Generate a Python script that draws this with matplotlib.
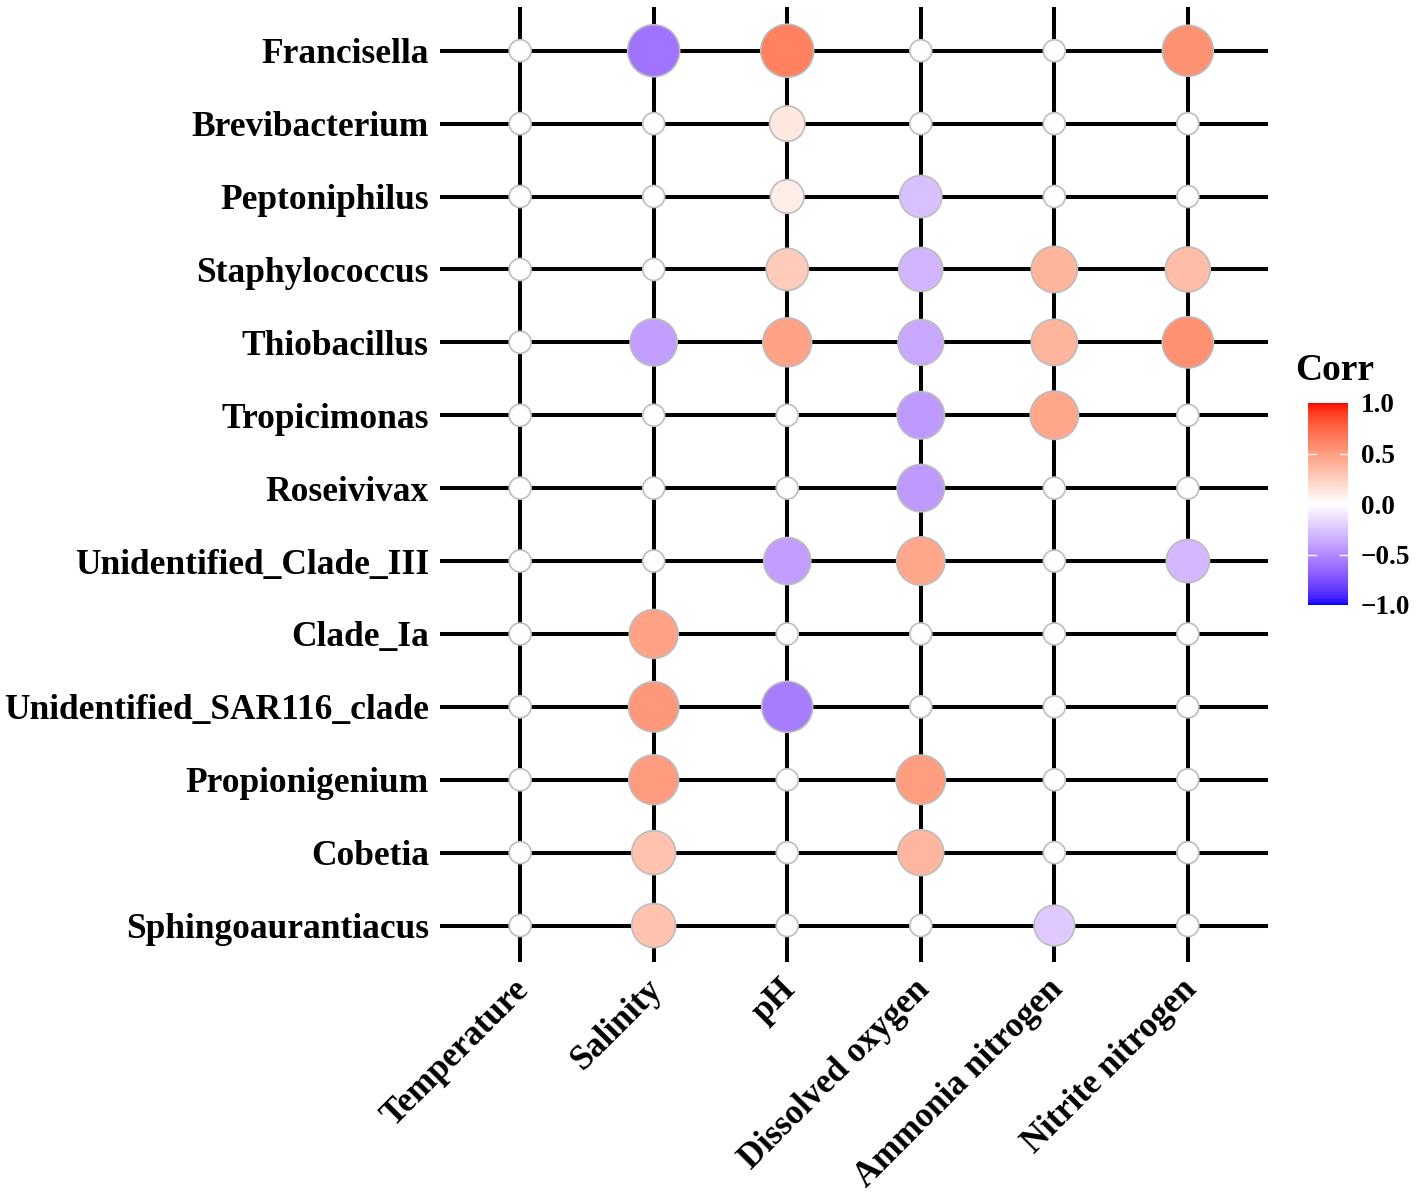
import numpy as np
import matplotlib
matplotlib.use("Agg")
import matplotlib.pyplot as plt
from matplotlib.colors import ListedColormap, Normalize
from matplotlib.cm import ScalarMappable
from matplotlib.transforms import ScaledTranslation

plt.rcParams['font.family'] = ['Liberation Serif', 'DejaVu Serif']
plt.rcParams['font.weight'] = 'bold'

# Data
genera = ["Francisella", "Brevibacterium", "Peptoniphilus", "Staphylococcus",
          "Thiobacillus", "Tropicimonas", "Roseivivax", "Unidentified_Clade_III",
          "Clade_Ia", "Unidentified_SAR116_clade", "Propionigenium", "Cobetia",
          "Sphingoaurantiacus"]
factors = ["Temperature", "Salinity", "pH", "Dissolved oxygen",
           "Ammonia nitrogen", "Nitrite nitrogen"]

# rows = genera, cols = factors (0 = not significant)
corr = [
    [0, -0.60, 0.64, 0, 0, 0.56],
    [0, 0, 0.12, 0, 0, 0],
    [0, 0, 0.09, -0.27, 0, 0],
    [0, 0, 0.27, -0.32, 0.39, 0.35],
    [0, -0.42, 0.48, -0.37, 0.39, 0.57],
    [0, 0, 0, -0.43, 0.46, 0],
    [0, 0, 0, -0.43, 0, 0],
    [0, 0, -0.42, 0.46, 0, -0.30],
    [0, 0.48, 0, 0, 0, 0],
    [0, 0.53, -0.56, 0, 0, 0],
    [0, 0.51, 0, 0.50, 0, 0],
    [0, 0.32, 0, 0.38, 0, 0],
    [0, 0.32, 0, 0, -0.23, 0],
]
corr = np.array(corr)


# blue - white - red ramp interpolated in CIELAB (like ggplot gradient2)
def srgb_to_lab(rgb):
    rgb = np.asarray(rgb, float)
    lin = np.where(rgb <= 0.04045, rgb / 12.92, ((rgb + 0.055) / 1.055) ** 2.4)
    M = np.array([[0.4124, 0.3576, 0.1805],
                  [0.2126, 0.7152, 0.0722],
                  [0.0193, 0.1192, 0.9505]])
    xyz = M @ lin / np.array([0.95047, 1.0, 1.08883])
    f = np.where(xyz > 0.008856, np.cbrt(xyz), 7.787 * xyz + 16 / 116)
    return np.array([116 * f[1] - 16, 500 * (f[0] - f[1]), 200 * (f[1] - f[2])])


def lab_to_srgb(lab):
    L, a, b = lab
    fy = (L + 16) / 116
    fx = fy + a / 500
    fz = fy - b / 200
    f = np.array([fx, fy, fz])
    xyz = np.where(f ** 3 > 0.008856, f ** 3, (f - 16 / 116) / 7.787)
    xyz = xyz * np.array([0.95047, 1.0, 1.08883])
    Minv = np.array([[3.2406, -1.5372, -0.4986],
                     [-0.9689, 1.8758, 0.0415],
                     [0.0557, -0.2040, 1.0570]])
    lin = Minv @ xyz
    rgb = np.where(lin <= 0.0031308, 12.92 * lin, 1.055 * np.abs(lin) ** (1 / 2.4) - 0.055)
    return np.clip(rgb, 0, 1)


blue = srgb_to_lab([0, 0, 1])
white = srgb_to_lab([1, 1, 1])
red = srgb_to_lab([1, 0, 0])
ramp = []
for t in np.linspace(-1, 1, 256):
    if t < 0:
        lab = white + (blue - white) * (-t)
    else:
        lab = white + (red - white) * t
    ramp.append(lab_to_srgb(lab))
cmap = ListedColormap(ramp)
norm = Normalize(-1, 1)

fig = plt.figure(figsize=(14.18, 11.97), dpi=100)
ax = fig.add_axes([440 / 1418, 1 - 962 / 1197, 828 / 1418, 955 / 1197])

nx, ny = len(factors), len(genera)
ax.set_xlim(-0.6, nx - 1 + 0.6)
ax.set_ylim(ny - 1 + 0.5, -0.6)

for i in range(nx):
    ax.axvline(i, color='black', lw=2.9, zorder=1)
for j in range(ny):
    ax.axhline(j, color='black', lw=2.9, zorder=1)

xx, yy = np.meshgrid(np.arange(nx), np.arange(ny))
vals = corr.ravel()
# diameter in px: area-style scaling of |corr|
diam_px = 22 + 31 * np.sqrt(np.abs(vals) / np.abs(vals).max())
sizes = (diam_px * 0.72) ** 2
ax.scatter(xx.ravel(), yy.ravel(), s=sizes, c=vals, cmap=cmap, norm=norm,
           edgecolors='#BDBDBD', linewidths=1.2, zorder=3)

for s in ax.spines.values():
    s.set_visible(False)
ax.set_xticks(range(nx))
ax.set_yticks(range(ny))
ax.set_xticklabels(factors, rotation=45, ha='right', va='top',
                   rotation_mode='anchor', fontsize=25, fontweight='bold')
ax.set_yticklabels(genera, fontsize=25.5, fontweight='bold')
ax.tick_params(length=0, pad=8)
shift = ScaledTranslation(-8 / 100, 0, fig.dpi_scale_trans)
for lab in ax.get_xticklabels():
    lab.set_transform(lab.get_transform() + shift)

# colour bar
cax = fig.add_axes([1308 / 1418, 1 - 605 / 1197, 40 / 1418, 202 / 1197])
cb = fig.colorbar(ScalarMappable(norm=norm, cmap=cmap), cax=cax)
cb.outline.set_visible(False)
cb.set_ticks([-1, -0.5, 0, 0.5, 1])
cb.set_ticklabels(["\u22121.0", "\u22120.5", "0.0", "0.5", "1.0"])
cax.tick_params(length=0, labelsize=19.5, pad=9)
for lab in cax.get_yticklabels():
    lab.set_fontweight('bold')
for v in [-0.5, 0, 0.5]:
    cax.axhline(v, xmin=0, xmax=0.2, color='white', lw=1)
    cax.axhline(v, xmin=0.8, xmax=1, color='white', lw=1)
fig.text(1295 / 1418, 1 - 370 / 1197, "Corr", fontsize=27, fontweight='bold',
         ha='left', va='center')

fig.savefig("out.png", dpi=100)
